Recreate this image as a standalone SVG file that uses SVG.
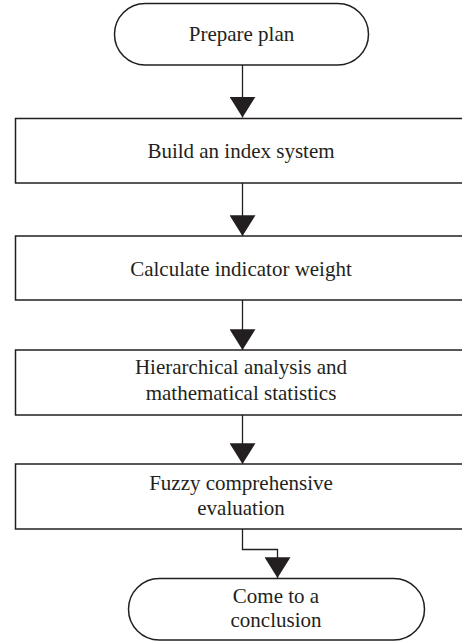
<svg xmlns="http://www.w3.org/2000/svg" width="462" height="644" viewBox="0 0 462 644">
<defs>
<style>
.shape{fill:#fff;stroke:#231f20;stroke-width:1.5}
.conn{fill:none;stroke:#231f20;stroke-width:1.3}
text{font-family:"Liberation Serif","Times New Roman",serif;font-size:21px;fill:#231f20;text-anchor:middle}
</style>
<marker id="ah" markerUnits="userSpaceOnUse" markerWidth="21" markerHeight="26" refX="20" refY="12.5" orient="auto" viewBox="0 0 20 25">
<path d="M0,0 L20,12.5 L0,25 Z" fill="#231f20"/>
</marker>
</defs>
<rect width="462" height="644" fill="#fff"/>
<g id="connectors">
<path class="conn" d="M242.5,65 V117.5" marker-end="url(#ah)"/>
<path class="conn" d="M242.5,183 V236" marker-end="url(#ah)"/>
<path class="conn" d="M242.5,300 V350" marker-end="url(#ah)"/>
<path class="conn" d="M242.5,415 V464" marker-end="url(#ah)"/>
<path class="conn" d="M242.5,529 V549.5 H277.5 V578" marker-end="url(#ah)"/>
</g>
<g id="start">
<rect class="shape" x="114.5" y="3.5" width="254" height="61.5" rx="30.75"/>
<text x="241.5" y="41">Prepare plan</text>
</g>
<g id="build-index">
<rect class="shape" x="15.5" y="118.5" width="460" height="64.5"/>
<text x="241" y="158">Build an index system</text>
</g>
<g id="calc-weight">
<rect class="shape" x="15.5" y="236" width="460" height="64"/>
<text x="241" y="276">Calculate indicator weight</text>
</g>
<g id="hierarchical">
<rect class="shape" x="15.5" y="350" width="460" height="65"/>
<text x="241" y="374">Hierarchical analysis and</text>
<text x="241" y="400">mathematical statistics</text>
</g>
<g id="fuzzy">
<rect class="shape" x="15.5" y="464" width="460" height="65"/>
<text x="241" y="490">Fuzzy comprehensive</text>
<text x="241" y="515">evaluation</text>
</g>
<g id="end">
<rect class="shape" x="128.5" y="578.5" width="296" height="61.5" rx="30.75"/>
<text x="276" y="603">Come to a</text>
<text x="276" y="627">conclusion</text>
</g>
</svg>
